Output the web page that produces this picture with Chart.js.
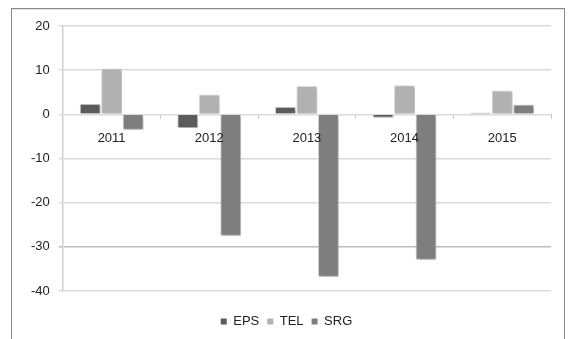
<!DOCTYPE html>
<html>
<head>
<meta charset="utf-8">
<script src="https://cdn.jsdelivr.net/npm/chart.js@4/dist/chart.umd.min.js"></script>
<style>
  html, body { margin: 0; padding: 0; background: #fff; }
  #wrap { position: relative; width: 568px; height: 339px; overflow: hidden; }
  #frame { position: absolute; left: 11px; top: 8px; width: 552px; height: 345px;
           border: 1px solid #8a8a8a; box-shadow: inset 0 1px 0 #e2e2e2; }
  #c { position: absolute; left: 0; top: 0; }
</style>
</head>
<body>
<div id="wrap">
  <div id="frame"></div>
  <canvas id="c" width="568" height="339"></canvas>
</div>
<script>
const categories = ['2011', '2012', '2013', '2014', '2015'];
const epsValues = [2.4, -3.1, 1.7, -0.8, 0.4];
const telValues = [10.4, 4.5, 6.4, 6.6, 5.4];
const srgValues = [-3.5, -27.5, -36.8, -32.9, 2.2];
const yTicks = [20, 10, 0, -10, -20, -30, -40];

const shadowPlugin = {
  id: 'barShadow',
  beforeDatasetsDraw(chart) {
    const ctx = chart.ctx;
    ctx.save();
    ctx.shadowColor = 'rgba(0,0,0,0.28)';
    ctx.shadowBlur = 3;
    ctx.shadowOffsetX = 1;
    ctx.shadowOffsetY = 2;
  },
  afterDatasetsDraw(chart) {
    chart.ctx.restore();
  }
};

const font = { family: '"Liberation Sans", Arial, sans-serif', size: 13 };

new Chart(document.getElementById('c'), {
  type: 'bar',
  data: {
    labels: categories,
    datasets: [
      { label: 'EPS', data: epsValues, backgroundColor: '#5b5b5b', borderColor: '#d8d8d8', borderWidth: 1 },
      { label: 'TEL', data: telValues, backgroundColor: '#b1b1b1', borderColor: '#dedede', borderWidth: 1 },
      { label: 'SRG', data: srgValues, backgroundColor: '#7e7e7e', borderColor: '#d8d8d8', borderWidth: 1 }
    ]
  },
  plugins: [shadowPlugin],
  options: {
    responsive: false,
    animation: false,
    devicePixelRatio: 1,
    layout: { padding: { left: 22, right: 17, top: 26, bottom: 1 } },
    datasets: { bar: { categoryPercentage: 0.66, barPercentage: 0.97 } },
    plugins: {
      legend: {
        position: 'bottom',
        title: { display: true, text: '', font: { size: 1 }, padding: { top: 0, bottom: 14.8 } },
        labels: {
          font: font, color: '#222', boxWidth: 6, boxHeight: 6, padding: 8,
          generateLabels(chart) {
            return chart.data.datasets.map((d, i) => ({
              text: d.label, fillStyle: d.backgroundColor, strokeStyle: d.backgroundColor,
              lineWidth: 0, hidden: false, datasetIndex: i, fontColor: '#222'
            }));
          }
        }
      },
      tooltip: { enabled: false }
    },
    scales: {
      x: {
        position: { y: 0 },
        grid: { display: true, drawOnChartArea: false, drawTicks: true, tickLength: 5, color: '#c8c8c8', offset: true },
        border: { display: false },
        ticks: { font: font, color: '#222', padding: 11, z: 1 }
      },
      y: {
        min: -40, max: 20,
        afterBuildTicks(scale) { scale.ticks = yTicks.map(v => ({ value: v })); },
        grid: { color: (c) => (c.tick && c.tick.value === -30 ? '#bdbdbd' : '#dadada'), tickLength: 4, lineWidth: 1.5 },
        border: { display: true, color: '#cfcfcf', width: 1.5 },
        ticks: { font: font, color: '#222', padding: 9 }
      }
    }
  }
});
</script>
</body>
</html>
